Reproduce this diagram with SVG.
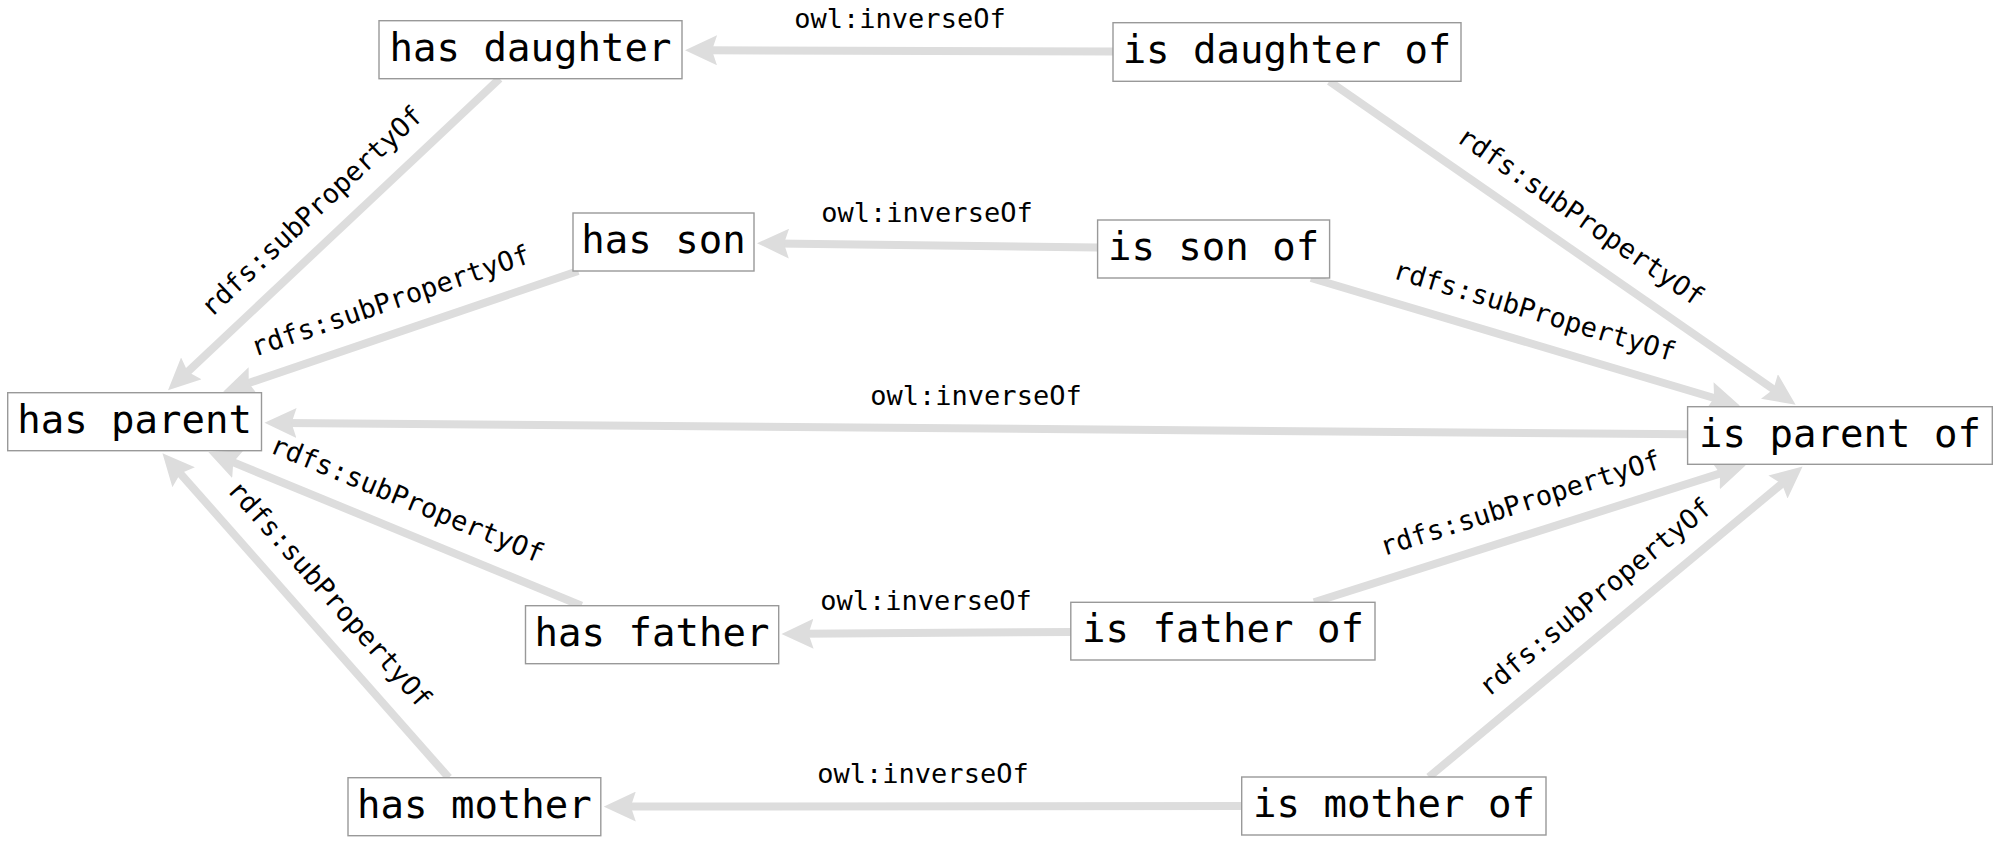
<svg xmlns="http://www.w3.org/2000/svg" width="2000" height="862" viewBox="0 0 2000 862">
<style>
.node rect{fill:#ffffff;stroke:#999999;stroke-width:1.4}
.node text{font-family:"DejaVu Sans Mono",monospace;font-size:39px;fill:#000;text-anchor:middle}
.edges line{stroke:#dddddd;stroke-width:8;marker-end:url(#arr)}
.lbl{font-family:"DejaVu Sans Mono",monospace;font-size:27px;fill:#000;text-anchor:middle}
</style>
<defs>
<marker id="arr" markerUnits="userSpaceOnUse" markerWidth="32" markerHeight="30" refX="12" refY="15" orient="auto" viewBox="0 0 32 30">
<path d="M0,0 L32,15 L0,30 L5,15 z" fill="#dddddd"/>
</marker>
</defs>
<rect width="2000" height="862" fill="#ffffff"/>
<g id="connectors" class="edges">
<line x1="1113" y1="51.5" x2="705" y2="50.2"/>
<line x1="1097.6" y1="247.5" x2="777" y2="243.4"/>
<line x1="1687.6" y1="434.3" x2="284.5" y2="422.9"/>
<line x1="1071" y1="632" x2="801.5" y2="633.8"/>
<line x1="1241.8" y1="806.1" x2="623.8" y2="806.6"/>
<line x1="499.6" y1="78.7" x2="182.6" y2="376.6"/>
<line x1="578.2" y1="271" x2="242.1" y2="385.2"/>
<line x1="581.5" y1="605.7" x2="226.8" y2="459.6"/>
<line x1="448.8" y1="777.7" x2="175.7" y2="468.3"/>
<line x1="1329.3" y1="81.3" x2="1779.2" y2="393.3"/>
<line x1="1311" y1="278" x2="1720.8" y2="400"/>
<line x1="1314" y1="602.3" x2="1726.7" y2="471.4"/>
<line x1="1428.9" y1="777" x2="1787.2" y2="479.3"/>
<text class="lbl" x="900" y="28">owl:inverseOf</text>
<text class="lbl" x="927" y="222">owl:inverseOf</text>
<text class="lbl" x="976" y="405">owl:inverseOf</text>
<text class="lbl" x="926" y="610">owl:inverseOf</text>
<text class="lbl" x="923" y="783">owl:inverseOf</text>
<text class="lbl" transform="translate(333.8 234.5) rotate(-43.2)" x="0" y="-23">rdfs:subPropertyOf</text>
<text class="lbl" transform="translate(400.7 331.3) rotate(-18.8)" x="0" y="-23">rdfs:subPropertyOf</text>
<text class="lbl" transform="translate(394.9 528.9) rotate(22.4)" x="0" y="-23">rdfs:subPropertyOf</text>
<text class="lbl" transform="translate(305.7 615.5) rotate(48.6)" x="0" y="-23">rdfs:subPropertyOf</text>
<text class="lbl" transform="translate(1562.5 243) rotate(34.7)" x="0" y="-23">rdfs:subPropertyOf</text>
<text class="lbl" transform="translate(1525.5 341.9) rotate(16.6)" x="0" y="-23">rdfs:subPropertyOf</text>
<text class="lbl" transform="translate(1529.9 533.9) rotate(-17.6)" x="0" y="-23">rdfs:subPropertyOf</text>
<text class="lbl" transform="translate(1615.8 621.8) rotate(-39.7)" x="0" y="-23">rdfs:subPropertyOf</text>
</g>
<g id="has-daughter" class="node"><rect x="379" y="20.7" width="303" height="58"/><text x="530.5" y="60.7">has daughter</text></g>
<g id="is-daughter-of" class="node"><rect x="1113" y="22.7" width="348" height="58.6"/><text x="1287" y="63">is daughter of</text></g>
<g id="has-son" class="node"><rect x="573" y="213" width="181" height="58"/><text x="663.5" y="253">has son</text></g>
<g id="is-son-of" class="node"><rect x="1097.6" y="220" width="232" height="58"/><text x="1213.6" y="260">is son of</text></g>
<g id="has-parent" class="node"><rect x="7.7" y="392.7" width="253.8" height="58"/><text x="134.6" y="432.7">has parent</text></g>
<g id="is-parent-of" class="node"><rect x="1687.6" y="406.7" width="304.7" height="57.6"/><text x="1840" y="446.5">is parent of</text></g>
<g id="has-father" class="node"><rect x="525.5" y="605.7" width="253.2" height="58"/><text x="652" y="645.7">has father</text></g>
<g id="is-father-of" class="node"><rect x="1070.8" y="602.3" width="304.2" height="57.7"/><text x="1223" y="642">is father of</text></g>
<g id="has-mother" class="node"><rect x="348" y="777.7" width="252.8" height="58"/><text x="474.4" y="817.7">has mother</text></g>
<g id="is-mother-of" class="node"><rect x="1241.7" y="777" width="304.3" height="58"/><text x="1394" y="817">is mother of</text></g>
</svg>
